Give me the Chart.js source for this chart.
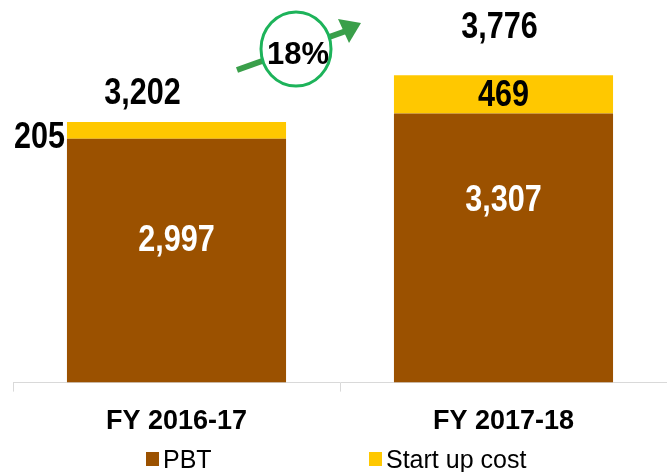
<!DOCTYPE html>
<html>
<head>
<meta charset="utf-8">
<script src="https://cdn.jsdelivr.net/npm/chart.js@4.4.1/dist/chart.umd.min.js"></script>
<style>
    html, body { margin: 0; padding: 0; background: #fff; }
    body { width: 667px; height: 472px; overflow: hidden; position: relative; font-family: "Liberation Sans", Arial, sans-serif; }
    #wrap { position: absolute; left: 0; top: 0; width: 667px; height: 452px; }
    .legend-item { position: absolute; top: 446px; height: 26px; display: flex; align-items: center; font-size: 25px; color: #000; }
    .swatch { width: 13px; height: 14px; margin-right: 4px; }
</style>
</head>
<body>
<div id="wrap"><canvas id="chart"></canvas></div>
<div class="legend-item" style="left:146px;"><span class="swatch" style="background:#9B5100"></span>PBT</div>
<div class="legend-item" style="left:369px;"><span class="swatch" style="background:#FFC800"></span>Start up cost</div>

<script>
// data
const categories = ['FY 2016-17', 'FY 2017-18'];
const seriesNames = ['PBT', 'Start up cost'];
const pbt = [2997, 3307];
const startUpCost = [205, 469];
const totals = [3202, 3776];
const growthLabel = '18%';

// label placement (style only)
const pbtLabelFrac = [0.418, 0.325];
const totalOffsets = [{ dx: -34, dy: -28 }, { dx: -4, dy: -47 }];

const BROWN = '#9B5100';
const YELLOW = '#FFC800';
const NUM_FONT = 'bold 36px "Liberation Sans", Arial, sans-serif';

const fmt = v => v.toLocaleString('en-US');

function drawNarrow(ctx, text, x, y, color, align) {
    ctx.save();
    ctx.translate(x, y);
    ctx.scale(0.85, 1);
    ctx.font = NUM_FONT;
    ctx.fillStyle = color;
    ctx.textAlign = align;
    ctx.textBaseline = 'middle';
    ctx.fillText(text, 0, 0);
    ctx.restore();
}

const labelPlugin = {
    id: 'barLabels',
    afterDatasetsDraw(chart) {
        const ctx = chart.ctx;
        const pbtBars = chart.getDatasetMeta(0).data;
        const startBars = chart.getDatasetMeta(1).data;

        pbtBars.forEach((bar, i) => {
            const y = bar.y + (bar.base - bar.y) * pbtLabelFrac[i];
            drawNarrow(ctx, fmt(pbt[i]), bar.x, y, '#fff', 'center');
        });

        // 205 sits left of the first bar, 469 inside the second
        const s0 = startBars[0];
        drawNarrow(ctx, fmt(startUpCost[0]), s0.x - s0.width / 2 - 2, s0.base - 1, '#000', 'right');
        const s1 = startBars[1];
        drawNarrow(ctx, fmt(startUpCost[1]), s1.x, (s1.y + s1.base) / 2 + 2, '#000', 'center');

        startBars.forEach((bar, i) => {
            const off = totalOffsets[i];
            drawNarrow(ctx, fmt(totals[i]), bar.x + off.dx, bar.y + off.dy, '#000', 'center');
        });

        // growth arrow + circle
        ctx.save();
        ctx.strokeStyle = '#3A9F4A';
        ctx.fillStyle = '#3A9F4A';
        ctx.lineWidth = 6;
        ctx.beginPath();
        ctx.moveTo(237, 70);
        ctx.lineTo(346, 31);
        ctx.stroke();
        ctx.beginPath();
        ctx.moveTo(361, 23);
        ctx.lineTo(338, 19);
        ctx.lineTo(349, 43);
        ctx.closePath();
        ctx.fill();

        ctx.beginPath();
        ctx.ellipse(296, 49, 35, 37, 0, 0, Math.PI * 2);
        ctx.fillStyle = '#fff';
        ctx.fill();
        ctx.lineWidth = 3;
        ctx.strokeStyle = '#1DB35A';
        ctx.stroke();

        ctx.font = 'bold 31px "Liberation Sans", Arial, sans-serif';
        ctx.fillStyle = '#000';
        ctx.textAlign = 'center';
        ctx.textBaseline = 'middle';
        ctx.fillText(growthLabel, 298, 55);
        ctx.restore();
    }
};

new Chart(document.getElementById('chart'), {
    type: 'bar',
    data: {
        labels: categories,
        datasets: [
            { label: seriesNames[0], data: pbt, backgroundColor: BROWN },
            { label: seriesNames[1], data: startUpCost, backgroundColor: YELLOW },
        ],
    },
    options: {
        responsive: true,
        maintainAspectRatio: false,
        animation: false,
        categoryPercentage: 1,
        barPercentage: 0.67,
        layout: { padding: { left: 13, right: 0, top: 0, bottom: 0 } },
        plugins: {
            legend: { display: false },
            tooltip: { enabled: false },
        },
        scales: {
            x: {
                stacked: true,
                border: { color: '#D9D9D9', width: 1 },
                grid: { drawOnChartArea: false, color: '#D9D9D9', tickLength: 9, offset: true },
                ticks: {
                    color: '#000',
                    padding: 14,
                    font: { family: '"Liberation Sans", Arial, sans-serif', size: 27, weight: 'bold' },
                },
            },
            y: {
                stacked: true,
                display: false,
                min: 0,
                max: 4700,
            },
        },
    },
    plugins: [labelPlugin],
});
</script>
</body>
</html>
